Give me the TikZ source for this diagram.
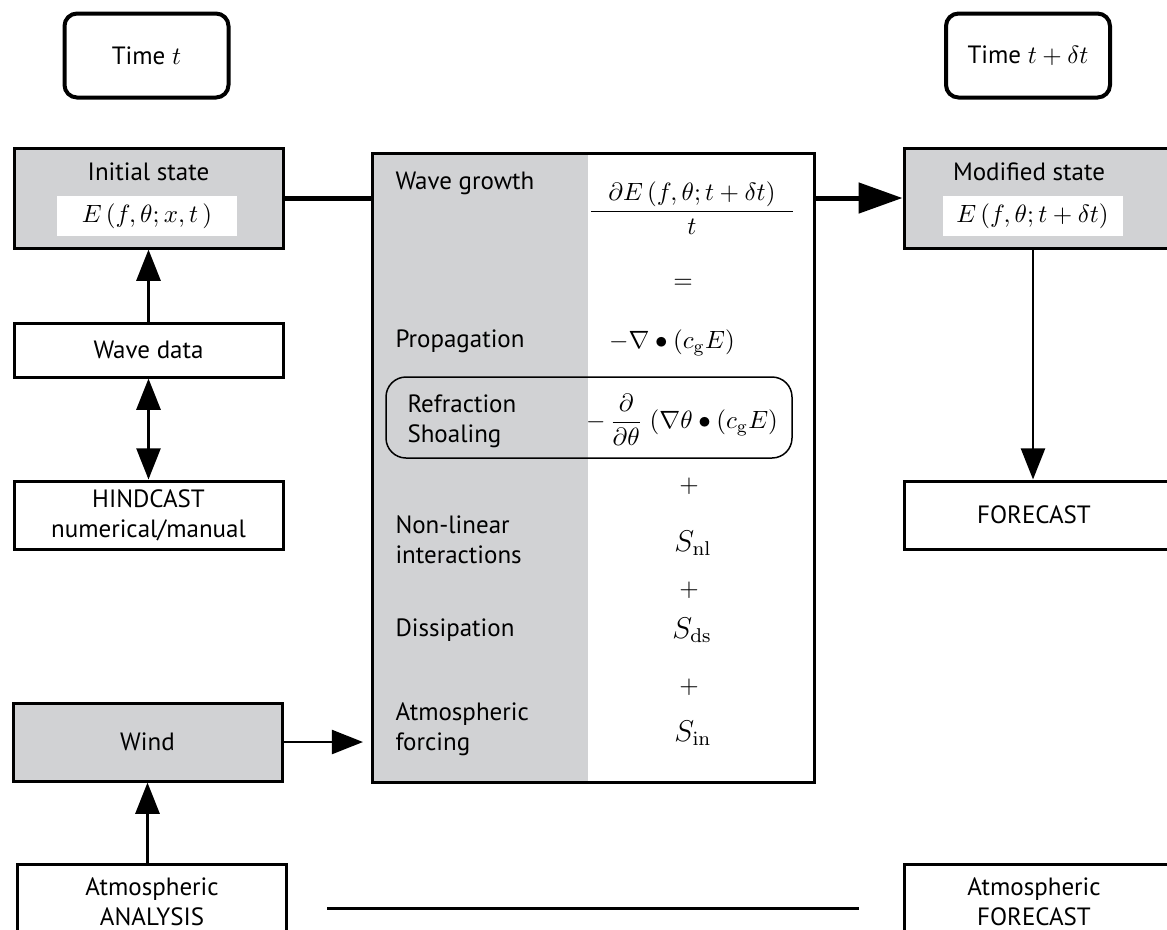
\documentclass[tikz,border=0pt]{standalone}
\usepackage{amsmath}
\usepackage[no-math]{fontspec}
\setmainfont{PT Sans}
\usetikzlibrary{arrows.meta}
\definecolor{boxgray}{HTML}{D1D2D4}
\tikzset{
  timebox/.style={
    draw,
    line width=1.6pt,
    rounded corners=5pt,
    minimum width=164*0.4pt,
    minimum height=84*0.4pt
  },
  statebox/.style={
    draw,
    line width=1.2pt,
    fill=boxgray,
    align=center,
    minimum width=269*0.4pt,
    minimum height=100*0.4pt
  },
  plainbox/.style={
    statebox,
    fill=white
  },
  formbox/.style={
    fill=white,
    minimum width=180*0.4pt,
    minimum height=40*0.4pt,
    inner sep=0pt
  },
  termlabel/.style={
    anchor=west,
    align=left,
    inner sep=0pt
  },
  mainline/.style={
    line width=2pt
  },
  mainarrow/.style={
    -{Triangle[length=17.6pt,width=12pt]},
    line width=2pt
  },
  thinarrow/.style={
    -{Triangle[length=12.5pt,width=9.6pt]},
    line width=1.1pt
  },
  linkline/.style={
    line width=1.2pt
  }
}

\begin{document}
\begin{tikzpicture}[x=0.4pt, y=-0.4pt, font=\fontsize{10}{12}\selectfont]
    \clip (0,0) rectangle (1167,929);

    % time stamps
    \node[timebox] (tnow) at (146.5,55.5) {Time $t$};
    \node[timebox] (tnext) at (1028,55.5) {Time $t+\delta t$};

    % left column
    \node[statebox] (init) at (148.5,198) {};
    \node (inittitle) at (148.5,172) {Initial state};
    \node[formbox] (initE) at (147,216) {$E\,(f,\theta;x,t\,)$};
    \node[plainbox, minimum height=54*0.4pt] (wave) at (148.5,350) {Wave data};
    \node[plainbox, minimum height=68*0.4pt] (hind) at (148.5,515) {HINDCAST\\numerical/manual};
    \node[statebox, minimum height=78*0.4pt] (wind) at (147.5,742) {Wind};
    \node[plainbox, minimum height=76*0.4pt] (anal) at (152,902) {Atmospheric\\ANALYSIS};

    % balance equation
    \fill[boxgray] (372,153) rectangle (588,782);
    \node[draw, line width=1.2pt, minimum width=442*0.4pt, minimum height=629*0.4pt] (eqbox) at (593,467.5) {};
    \node[draw, line width=0.6pt, rounded corners=8pt, minimum width=406*0.4pt, minimum height=81*0.4pt] (refrbox) at (589,417.5) {};

    \node[termlabel] (growth) at (395,183.5) {Wave growth};
    \node[termlabel] (prop) at (395,341.5) {Propagation};
    \node[termlabel] (refr) at (407,421) {Refraction\\Shoaling};
    \node[termlabel] (nonlin) at (395,540) {Non-linear\\interactions};
    \node[termlabel] (diss) at (395,630.5) {Dissipation};
    \node[termlabel] (forcing) at (395,729.5) {Atmospheric\\forcing};

    \node (dEdt) at (692,208) {$\dfrac{\hspace*{7pt}\partial E\,(f,\theta;t+\delta t)\hspace*{7pt}}{t}$};
    \node (eq) at (683,284) {$=$};
    \node (propterm) at (672,343) {$-\nabla\bullet(c_{\mathrm{g}}E)$};
    \node (refrterm) at (682,420) {$-\,\dfrac{\partial}{\partial\theta}\;(\nabla\theta\bullet(c_{\mathrm{g}}E)$};
    \node (plusA) at (689,486) {$+$};
    \node (snl) at (693,543) {\large $S_{\mathrm{nl}}$};
    \node (plusB) at (689,590) {$+$};
    \node (sds) at (692,630) {\large $S_{\mathrm{ds}}$};
    \node (plusC) at (689,687) {$+$};
    \node (sin) at (693,733) {\large $S_{\mathrm{in}}$};

    % right column
    \node[statebox, minimum width=290*0.4pt] (mod) at (1049,198) {};
    \node (modtitle) at (1029,172) {Modified state};
    \node[formbox] (modE) at (1032.5,216) {$E\,(f,\theta;t+\delta t)$};
    \node[plainbox, minimum width=290*0.4pt, minimum height=68*0.4pt] (fcst) at (1049,515) {};
    \node (fcsttext) at (1034,515) {FORECAST};
    \node[plainbox, minimum width=290*0.4pt, minimum height=76*0.4pt] (atmf) at (1049,902) {};
    \node[align=center] (atmftext) at (1034,902) {Atmospheric\\FORECAST};

    % connectors
    \draw[mainline] (init.east) -- (init.east -| eqbox.west);
    \draw[mainarrow] (eqbox.east |- mod.west) -- (mod.west);
    \draw[thinarrow] (wave.north) -- (init.south);
    \draw[thinarrow, {Triangle[length=12.5pt,width=9.6pt]}-{Triangle[length=12.5pt,width=9.6pt]}] (wave.south) -- (hind.north);
    \draw[thinarrow] (anal.north -| wind.south) -- (wind.south);
    \draw[thinarrow, shorten >=3pt] (wind.east) -- (wind.east -| eqbox.west);
    \draw[thinarrow] ([xshift=-6.4pt]mod.south) -- ([xshift=-6.4pt]mod.south |- fcst.north);
    \draw[linkline, shorten <=15.6pt, shorten >=17.6pt] ([yshift=-2.4pt]anal.east) -- ([yshift=-2.4pt]atmf.west);
\end{tikzpicture}
\end{document}
